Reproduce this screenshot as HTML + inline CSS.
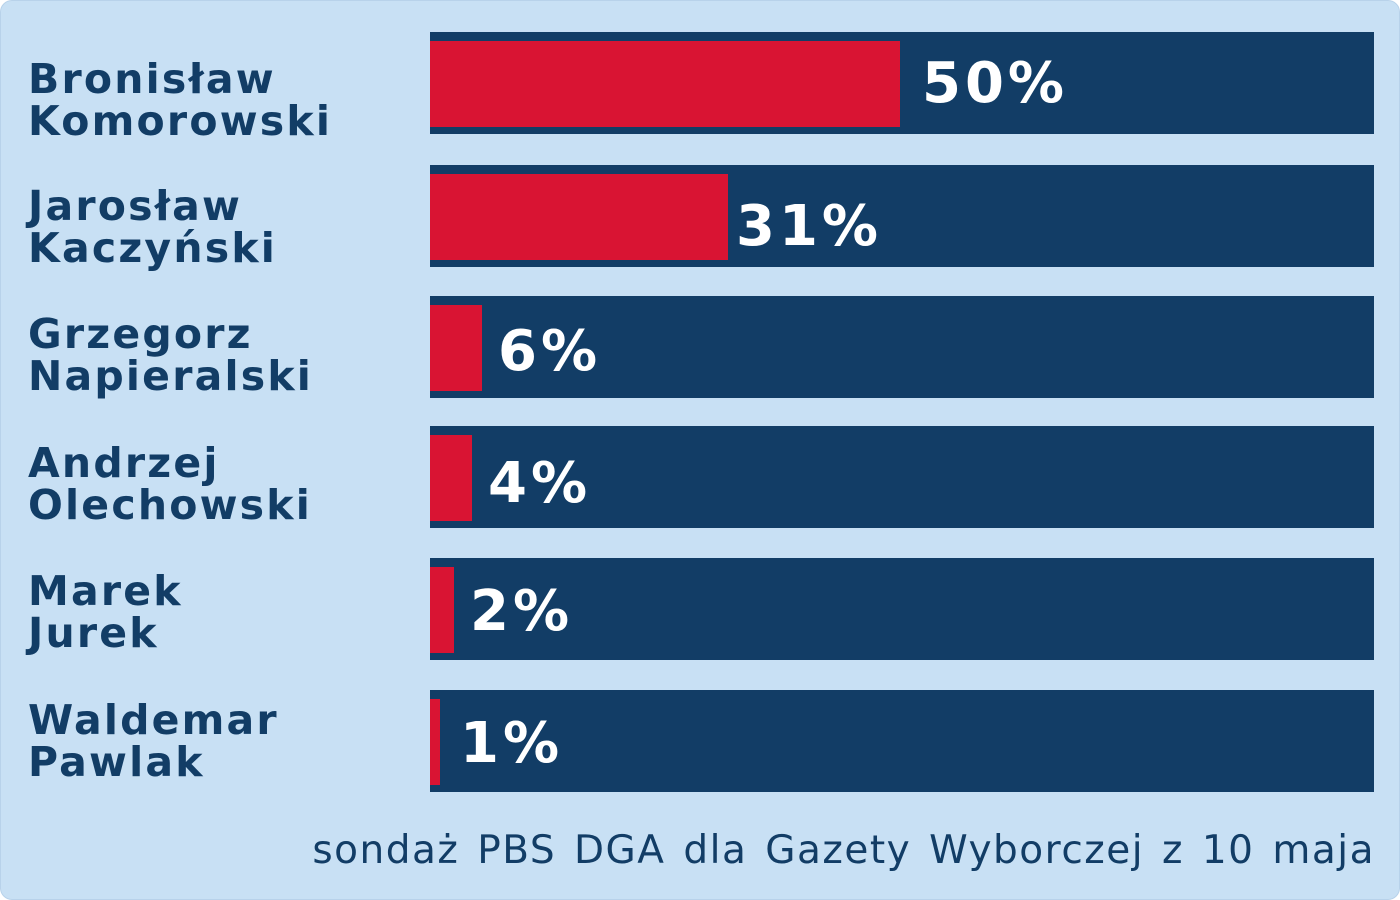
<!DOCTYPE html>
<html><head><meta charset="utf-8"><style>
html,body{margin:0;padding:0;}
body{width:1400px;height:900px;background:#fff;position:relative;overflow:hidden;font-family:"DejaVu Sans","Liberation Sans",sans-serif;}
.bg{position:absolute;left:0;top:0;width:1398px;height:898px;background:#c8e0f4;border-radius:12px;border:1px solid #b8d2ea;}
.bar{position:absolute;left:430px;width:944px;height:102px;background:#123d66;}
.red{position:absolute;left:0;top:9px;bottom:7px;background:#d91433;}
.pct{position:absolute;top:22px;color:#fff;font-weight:bold;font-size:56px;line-height:60px;letter-spacing:4px;}
.lab{position:absolute;left:28px;color:#123d66;font-weight:bold;font-size:41px;line-height:42px;letter-spacing:2.2px;}
.foot{position:absolute;right:25px;top:826px;color:#123d66;font-size:39px;line-height:50px;letter-spacing:1.5px;word-spacing:4px;}
</style></head><body>
<div class="bg"></div>
<div class="bar" style="top:32px"><div class="red" style="width:470px"></div><div class="pct" style="left:492px">50%</div></div>
<div class="bar" style="top:165px"><div class="red" style="width:298px"></div><div class="pct" style="left:306px;top:32px">31%</div></div>
<div class="bar" style="top:296px"><div class="red" style="width:52px"></div><div class="pct" style="left:68px;top:26px">6%</div></div>
<div class="bar" style="top:426px"><div class="red" style="width:42px"></div><div class="pct" style="left:58px;top:28px">4%</div></div>
<div class="bar" style="top:558px"><div class="red" style="width:24px"></div><div class="pct" style="left:40px;top:24px">2%</div></div>
<div class="bar" style="top:690px"><div class="red" style="width:10px"></div><div class="pct" style="left:30px;top:24px">1%</div></div>
<div class="lab" style="top:58px">Bronisław<br>Komorowski</div>
<div class="lab" style="top:185px">Jarosław<br>Kaczyński</div>
<div class="lab" style="top:313px">Grzegorz<br>Napieralski</div>
<div class="lab" style="top:442px">Andrzej<br>Olechowski</div>
<div class="lab" style="top:570px">Marek<br>Jurek</div>
<div class="lab" style="top:699px">Waldemar<br>Pawlak</div>
<div class="foot">sondaż PBS DGA dla Gazety Wyborczej z 10 maja</div>
</body></html>
